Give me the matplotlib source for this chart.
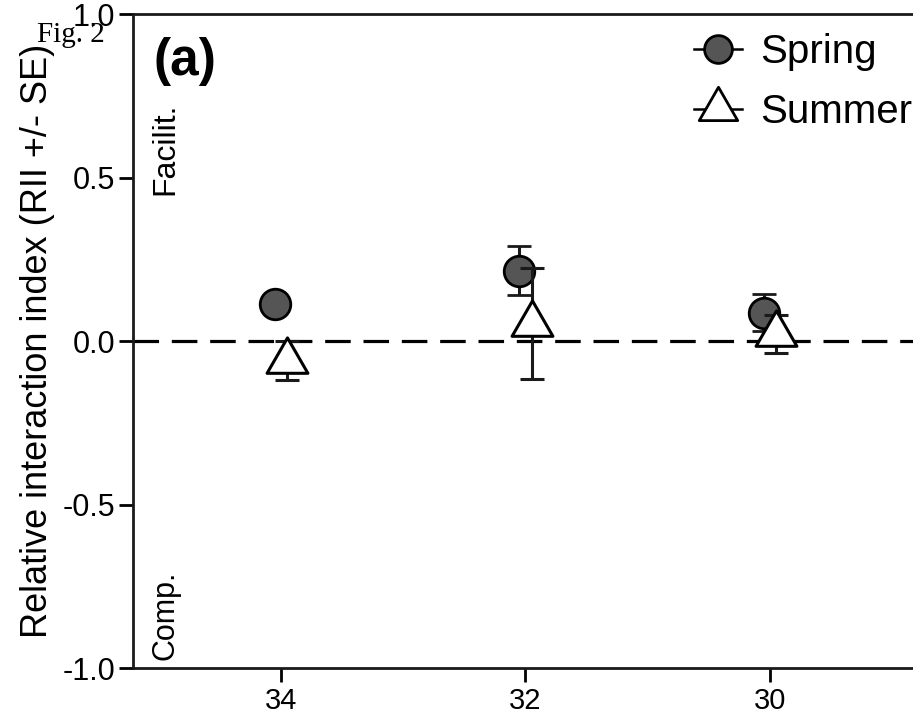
import matplotlib
matplotlib.use("Agg")
import matplotlib.pyplot as plt
from matplotlib.lines import Line2D
from matplotlib.path import Path
import numpy as np

categories = ["34", "32", "30"]
spring_mean = [0.113, 0.215, 0.087]
spring_se = [0.02, 0.075, 0.057]
summer_mean = [-0.06, 0.053, 0.022]
summer_se = [0.06, 0.17, 0.058]
y_ticks = [-1.0, -0.5, 0.0, 0.5, 1.0]

W, H = 913, 718
fig = plt.figure(figsize=(W / 100, H / 100), dpi=100)
ax = fig.add_axes([133 / W, 1 - 668 / H, 1 - 133 / W, (668 - 14) / H])

sans = ["Liberation Sans", "DejaVu Sans"]

x = np.arange(len(categories))
off = 0.025

# centroid-centred triangle
tri = Path([(0, 2 / 3), (-0.577, -1 / 3), (0.577, -1 / 3), (0, 2 / 3)],
           [Path.MOVETO, Path.LINETO, Path.LINETO, Path.CLOSEPOLY])

ax.axhline(0, color="black", lw=2.3, ls=(0, (8, 4)), zorder=1)

ax.errorbar(x - off, spring_mean, yerr=spring_se, fmt="o", ms=22,
            mfc="#555555", mec="black", mew=2, ecolor="#1a1a1a",
            elinewidth=2.2, capsize=8.5, capthick=2.2, zorder=3)
ax.errorbar(x + off, summer_mean, yerr=summer_se, fmt="none",
            ecolor="#1a1a1a", elinewidth=2.2, capsize=8.5, capthick=2.2,
            zorder=4)
ax.plot(x + off, summer_mean, ls="none", marker=tri, ms=34, mfc="white",
        mec="black", mew=2.2, zorder=5)

ax.set_xlim(-0.605, 2.585)
ax.set_ylim(-1.0, 1.0)
ax.set_xticks(x)
ax.set_xticklabels(categories, fontsize=21, family=sans)
ax.set_yticks(y_ticks)
ax.set_yticklabels([f"{v:.1f}" for v in y_ticks], fontsize=22, family=sans)
ax.tick_params(axis="both", direction="out", length=10, width=2, color="black")
ax.tick_params(axis="x", pad=4)
ax.tick_params(axis="y", pad=3)

for s in ["left", "bottom", "top"]:
    ax.spines[s].set_linewidth(2)
    ax.spines[s].set_color("#1a1a1a")
ax.spines["right"].set_visible(False)

ax.set_ylabel("Relative interaction index (RII +/- SE)", fontsize=26,
              family=sans)
ax.yaxis.set_label_coords(-0.1, 0.5)

ax.text(0.026, 0.928, "(a)", transform=ax.transAxes, fontsize=37,
        fontweight="bold", family=sans, va="center", ha="left")
ax.text(0.042, 0.723, "Facilit.", transform=ax.transAxes, rotation=90,
        fontsize=23, family=sans, va="bottom", ha="center")
ax.text(0.042, 0.012, "Comp.", transform=ax.transAxes, rotation=90,
        fontsize=22, family=sans, va="bottom", ha="center")

handles = [
    Line2D([], [], color="black", lw=1.8, marker="o", ms=20, mfc="#555555",
           mec="black", mew=2),
    Line2D([], [], color="black", lw=1.8, marker=tri, ms=32, mfc="white",
           mec="black", mew=2),
]
leg = ax.legend(handles, ["Spring", "Summer"], loc="upper left",
                bbox_to_anchor=((694 - 133) / 780, (668 - 33) / 654),
                frameon=False, handlelength=1.2, borderpad=0, borderaxespad=0,
                handletextpad=0.45, labelspacing=0.55,
                prop={"family": sans, "size": 29})

fig.text(37 / W, 1 - 42 / H, "Fig. 2", family=["Liberation Serif", "DejaVu Serif"],
         fontsize=21, va="baseline", ha="left")

fig.savefig("out.png", dpi=100)
